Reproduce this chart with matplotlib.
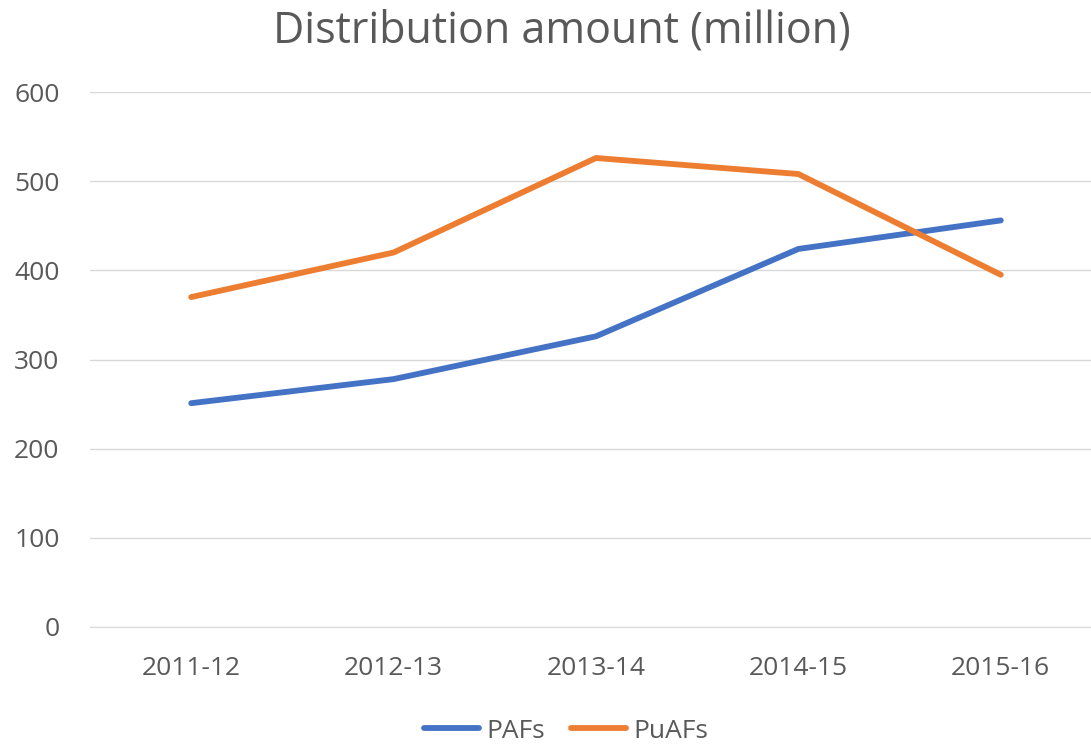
import matplotlib
matplotlib.use("Agg")
import matplotlib.pyplot as plt

# Jakautumat vuosittain (miljoonaa)
years = ["2011-12", "2012-13", "2013-14", "2014-15", "2015-16"]
pafs = [251, 278, 326, 424, 456]
puafs = [370, 420, 526, 508, 395]

TEXT = "#595959"
GRID = "#D9D9D9"

plt.rcParams['font.family'] = ['Open Sans', 'DejaVu Sans']

fig = plt.figure(figsize=(10.91, 7.46), dpi=100)
ax = fig.add_axes([90 / 1091, 1 - 627 / 746, (1102 - 90) / 1091, (627 - 92) / 746])

x = range(len(years))
ax.plot(x, pafs, color="#4472C4", lw=4.2, label="PAFs", solid_capstyle="round")
ax.plot(x, puafs, color="#ED7D31", lw=4.2, label="PuAFs", solid_capstyle="round")

ax.set_xlim(-0.5, 4.5)
ax.set_ylim(0, 600)
ax.set_yticks(range(0, 601, 100))
ax.set_xticks(list(x))
ax.set_xticklabels(years)
ax.grid(axis="y", color=GRID, lw=1)
ax.set_axisbelow(True)
for s in ["top", "right", "left"]:
    ax.spines[s].set_visible(False)
ax.spines["bottom"].set_color(GRID)
ax.tick_params(axis="both", length=0, labelsize=19, colors=TEXT)
ax.tick_params(axis="x", pad=21)
ax.tick_params(axis="y", pad=22)

fig.text(562 / 1091, 1 - 31 / 746, "Distribution amount (million)", ha="center", va="center",
         fontsize=31, color=TEXT)

fig.legend(loc="center", bbox_to_anchor=(566 / 1091, 1 - 731 / 746), ncol=2, frameon=False,
           fontsize=19, labelcolor=TEXT, handlelength=2.1, handletextpad=0.25, columnspacing=1.0)

fig.savefig("out.png", dpi=100)
